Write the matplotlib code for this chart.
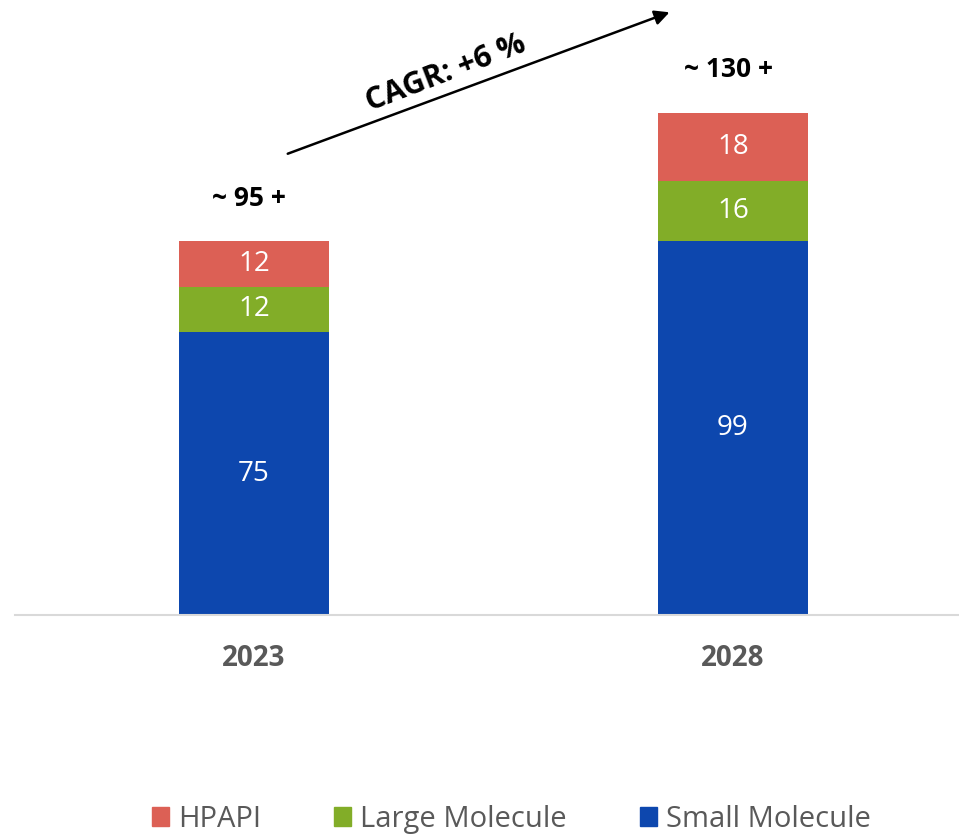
import matplotlib.pyplot as plt
from matplotlib.patches import Patch

plt.rcParams['font.family'] = ['Open Sans', 'DejaVu Sans']

# Data
years = ['2023', '2028']
small_molecule = [75, 99]
large_molecule = [12, 16]
hpapi = [12, 18]
total_labels = ['~ 95 +', '~ 130 +']
cagr_text = 'CAGR: +6 %'

blue = '#0D47AE'
green = '#82AD28'
red = '#DC6055'
grey = '#595959'

fig = plt.figure(figsize=(9.59, 8.35), dpi=100)
ax = fig.add_axes([15 / 959, 220 / 835, 944 / 959, 615 / 835])

x = list(range(len(years)))
w = 0.313
bottom2 = [a + b for a, b in zip(small_molecule, large_molecule)]
totals = [a + b for a, b in zip(bottom2, hpapi)]

b1 = ax.bar(x, small_molecule, w, color=blue)
b2 = ax.bar(x, large_molecule, w, bottom=small_molecule, color=green)
b3 = ax.bar(x, hpapi, w, bottom=bottom2, color=red)

for bars in (b1, b2, b3):
    ax.bar_label(bars, label_type='center', color='white', fontsize=20)

for i, t in enumerate(totals):
    ax.text(x[i] - 0.01, t + 11.5, total_labels[i], ha='center', va='center',
            fontsize=19, fontweight='bold', color='black')

# CAGR arrow
ax.annotate('', xy=(0.873, 160), xytext=(0.065, 122),
            arrowprops=dict(arrowstyle='-|>', color='black', lw=1.8,
                            mutation_scale=22))
ax.text(0.40, 143.5, cagr_text, rotation=21, ha='center', va='center',
        fontsize=22, fontweight='bold', rotation_mode='anchor')

ax.set_xlim(-0.499, 1.472)
ax.set_ylim(0, 163)
ax.set_xticks(x)
ax.set_xticklabels(years, fontsize=20, fontweight='bold', color=grey)
ax.tick_params(axis='x', length=0, pad=21)
ax.set_yticks([])
for s in ['top', 'right', 'left']:
    ax.spines[s].set_visible(False)
ax.spines['bottom'].set_color('#D9D9D9')
ax.spines['bottom'].set_linewidth(1.5)

handles = [Patch(color=red, label='HPAPI'),
           Patch(color=green, label='Large Molecule'),
           Patch(color=blue, label='Small Molecule')]
leg = fig.legend(handles=handles, loc='lower center', ncol=3, frameon=False,
                 bbox_to_anchor=(0.533, -0.03), fontsize=21,
                 handlelength=0.6, handleheight=0.6, handletextpad=0.3,
                 columnspacing=2.5)
for t in leg.get_texts():
    t.set_color(grey)

plt.savefig('out.png', dpi=100)
